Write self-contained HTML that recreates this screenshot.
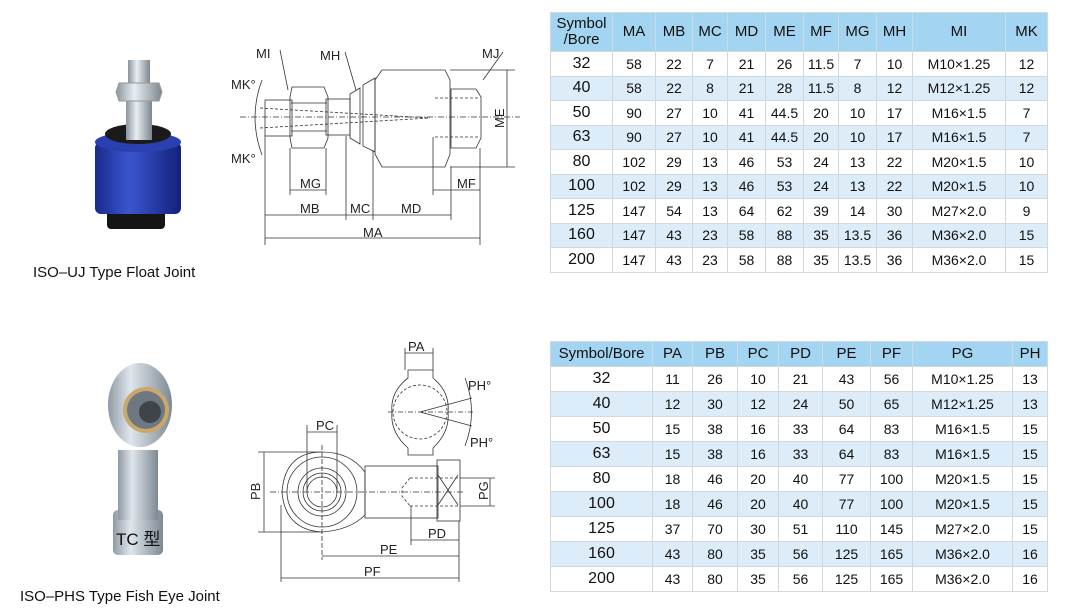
<!DOCTYPE html>
<html><head><meta charset="utf-8"><style>
body{margin:0;width:1066px;height:612px;background:#fff;position:relative;overflow:hidden;font-family:"Liberation Sans","Noto Sans CJK SC",sans-serif;color:#222}
table{position:absolute;border-collapse:collapse;table-layout:fixed;font-family:"Liberation Sans",sans-serif}
td{border:1px solid #cfd8de;text-align:center;padding:0;font-size:14px;color:#111}
tr.h td{background:#a3d4f1;font-size:15px;line-height:16px}
tr.a td{background:#dcedf9}
td.f{font-size:16px}
.lbl{position:absolute;font-size:15px;color:#111;white-space:nowrap}
svg text{font-family:"Liberation Sans",sans-serif;font-size:13px;fill:#222}
</style></head><body>

<svg style="position:absolute;left:0;top:0" width="240" height="300">
  <defs>
    <linearGradient id="bl" x1="0" x2="1"><stop offset="0" stop-color="#1b2a8a"/><stop offset=".4" stop-color="#3a56d0"/><stop offset="1" stop-color="#14207a"/></linearGradient>
    <linearGradient id="st" x1="0" x2="1"><stop offset="0" stop-color="#8a949c"/><stop offset=".4" stop-color="#e8eef2"/><stop offset="1" stop-color="#7c868e"/></linearGradient>
  </defs>
  <rect x="107" y="205" width="58" height="24" rx="4" fill="#151515"/>
  <rect x="95" y="142" width="86" height="72" rx="6" fill="url(#bl)"/>
  <ellipse cx="138" cy="142" rx="43" ry="10" fill="#2b40b0"/>
  <ellipse cx="138" cy="134" rx="33" ry="10" fill="#1a1a1a"/>
  <rect x="126" y="100" width="26" height="40" fill="url(#st)"/>
  <rect x="128" y="60" width="22" height="24" fill="url(#st)"/>
  <path d="M119 83 L159 83 L162 92 L159 101 L119 101 L116 92Z" fill="url(#st)" stroke="#999"/>
</svg>
<div class="lbl" style="left:33px;top:264px">ISO–UJ Type Float Joint</div>

<svg style="position:absolute;left:0;top:350px" width="240" height="230">
  <defs><linearGradient id="sv" x1="0" x2="1"><stop offset="0" stop-color="#8e9aa4"/><stop offset=".35" stop-color="#dfe6ec"/><stop offset="1" stop-color="#7d8993"/></linearGradient></defs>
  <rect x="113" y="160" width="50" height="45" rx="5" fill="url(#sv)"/>
  <rect x="118" y="100" width="40" height="70" fill="url(#sv)"/>
  <ellipse cx="140" cy="55" rx="32" ry="42" fill="url(#sv)"/>
  <circle cx="146" cy="60" r="23" fill="#c9a86a"/>
  <circle cx="146" cy="60" r="19" fill="#6f7880"/>
  <circle cx="150" cy="62" r="11" fill="#3d444a"/>
</svg>
<div class="lbl" style="left:116px;top:525px;font-size:17px">TC 型</div>
<div class="lbl" style="left:20px;top:588px">ISO–PHS Type Fish Eye Joint</div>

<svg style="position:absolute;left:220px;top:30px" width="320" height="220" fill="none" stroke="#333" stroke-width="0.8">
  <line x1="20" y1="87" x2="300" y2="87" stroke-dasharray="6 2 1 2"/>
  <rect x="45" y="70" width="27" height="36"/>
  <path d="M72 57 L104 57 L108 67 L108 108 L104 118 L72 118 L70 108 L70 67Z"/>
  <line x1="71" y1="73" x2="107" y2="73"/><line x1="71" y1="101" x2="107" y2="101"/>
  <rect x="106" y="69" width="24" height="36"/>
  <path d="M130 64 L140 58 L140 114 L130 108Z"/>
  <path d="M143 55 L155 48 L155 122 L143 116Z"/>
  <path d="M162 40 L225 40 L230 50 L230 124 L225 137 L162 137 L155 124 L155 50Z"/>
  <path d="M231 59 L256 59 L261 67 L261 108 L256 118 L231 118Z"/>
  <line x1="215" y1="68" x2="260" y2="68" stroke-dasharray="3 2"/><line x1="215" y1="107" x2="260" y2="107" stroke-dasharray="3 2"/>
  <line x1="40" y1="78" x2="210" y2="88" stroke-dasharray="3 2"/><line x1="40" y1="98" x2="210" y2="88" stroke-dasharray="3 2"/>
  <path d="M42 50 Q28 87 42 125"/>
  <line x1="230" y1="40" x2="295" y2="40"/><line x1="230" y1="137" x2="295" y2="137"/>
  <line x1="287" y1="40" x2="287" y2="137"/>
  <line x1="70" y1="118" x2="70" y2="165"/><line x1="106" y1="118" x2="106" y2="165"/>
  <line x1="70" y1="160" x2="106" y2="160"/>
  <line x1="45" y1="106" x2="45" y2="215"/><line x1="126" y1="106" x2="126" y2="190"/><line x1="153" y1="120" x2="153" y2="190"/><line x1="231" y1="137" x2="231" y2="190"/><line x1="260" y1="118" x2="260" y2="215"/>
  <line x1="213" y1="107" x2="213" y2="165"/>
  <line x1="213" y1="160" x2="260" y2="160"/>
  <line x1="45" y1="185" x2="231" y2="185"/>
  <line x1="45" y1="208" x2="260" y2="208"/>
  <line x1="60" y1="20" x2="68" y2="60"/><line x1="125" y1="22" x2="136" y2="60"/><line x1="283" y1="22" x2="263" y2="50"/>
  <g stroke="none" fill="#222">
    <text x="36" y="28">MI</text><text x="100" y="30">MH</text><text x="262" y="28">MJ</text>
    <text x="11" y="59">MK°</text><text x="11" y="133">MK°</text>
    <text x="80" y="158">MG</text><text x="237" y="158">MF</text>
    <text x="80" y="183">MB</text><text x="130" y="183">MC</text><text x="181" y="183">MD</text>
    <text x="143" y="207">MA</text>
    <text x="0" y="0" transform="translate(284 98) rotate(-90)">ME</text>
  </g>
</svg>

<svg style="position:absolute;left:240px;top:330px" width="280" height="260" fill="none" stroke="#333" stroke-width="0.8">
  <path d="M168 40 L193 40 L193 48 Q210 62 208 82 Q210 102 193 118 L193 125 L168 125 L168 118 Q150 102 152 82 Q150 62 168 48Z"/>
  <circle cx="180" cy="82" r="27" stroke-dasharray="3 2"/>
  <line x1="148" y1="82" x2="235" y2="82" stroke-dasharray="5 2 1 2"/>
  <line x1="180" y1="82" x2="232" y2="68"/><line x1="180" y1="82" x2="232" y2="96"/>
  <path d="M225 48 Q238 82 225 116"/>
  <line x1="165" y1="23" x2="193" y2="23"/><line x1="165" y1="18" x2="165" y2="40"/><line x1="193" y1="18" x2="193" y2="40"/>
  <path d="M82 122 Q45 122 42 162 Q45 200 82 202 Q110 200 125 185 L125 142 Q110 122 82 122Z"/>
  <circle cx="82" cy="162" r="35"/>
  <circle cx="82" cy="162" r="24"/><circle cx="82" cy="162" r="19"/><circle cx="82" cy="162" r="15"/>
  <rect x="125" y="136" width="73" height="52"/>
  <rect x="197" y="130" width="23" height="61"/>
  <path d="M198 145 L218 175 M218 145 L198 175"/>
  <path d="M170 148 L218 148 M170 176 L218 176 M170 148 L162 158 L162 166 L170 176" stroke-dasharray="3 2"/>
  <line x1="30" y1="162" x2="225" y2="162" stroke-dasharray="6 2 1 2"/>
  <line x1="82" y1="115" x2="82" y2="230" stroke-dasharray="5 2"/>
  <line x1="67" y1="95" x2="67" y2="162"/><line x1="97" y1="95" x2="97" y2="162"/><line x1="67" y1="102" x2="97" y2="102"/>
  <line x1="18" y1="122" x2="82" y2="122"/><line x1="18" y1="202" x2="82" y2="202"/><line x1="24" y1="122" x2="24" y2="202"/>
  <line x1="220" y1="148" x2="255" y2="148"/><line x1="220" y1="176" x2="255" y2="176"/><line x1="250" y1="148" x2="250" y2="176"/>
  <line x1="171" y1="176" x2="171" y2="215"/><line x1="219" y1="191" x2="219" y2="252"/>
  <line x1="171" y1="210" x2="219" y2="210"/>
  <line x1="82" y1="226" x2="219" y2="226"/>
  <line x1="41" y1="175" x2="41" y2="252"/><line x1="41" y1="248" x2="219" y2="248"/>
  <g stroke="none" fill="#222">
    <text x="168" y="21">PA</text><text x="228" y="60">PH°</text><text x="230" y="117">PH°</text>
    <text x="76" y="100">PC</text><text x="188" y="208">PD</text><text x="140" y="224">PE</text><text x="124" y="246">PF</text>
    <text transform="translate(20 170) rotate(-90)">PB</text>
    <text transform="translate(248 170) rotate(-90)" font-size="12">PG</text>
  </g>
</svg>

<table style="left:550px;top:12px;width:497px">
<colgroup><col style="width:62px"><col style="width:43px"><col style="width:37px"><col style="width:35px"><col style="width:38px"><col style="width:38px"><col style="width:35px"><col style="width:38px"><col style="width:36px"><col style="width:93px"><col style="width:42px"></colgroup>
<tr class="h" style="height:39px"><td>Symbol<br>/Bore</td><td>MA</td><td>MB</td><td>MC</td><td>MD</td><td>ME</td><td>MF</td><td>MG</td><td>MH</td><td>MI</td><td>MK</td></tr>
<tr style="height:24.5px"><td class="f">32</td><td>58</td><td>22</td><td>7</td><td>21</td><td>26</td><td>11.5</td><td>7</td><td>10</td><td>M10×1.25</td><td>12</td></tr>
<tr class="a" style="height:24.5px"><td class="f">40</td><td>58</td><td>22</td><td>8</td><td>21</td><td>28</td><td>11.5</td><td>8</td><td>12</td><td>M12×1.25</td><td>12</td></tr>
<tr style="height:24.5px"><td class="f">50</td><td>90</td><td>27</td><td>10</td><td>41</td><td>44.5</td><td>20</td><td>10</td><td>17</td><td>M16×1.5</td><td>7</td></tr>
<tr class="a" style="height:24.5px"><td class="f">63</td><td>90</td><td>27</td><td>10</td><td>41</td><td>44.5</td><td>20</td><td>10</td><td>17</td><td>M16×1.5</td><td>7</td></tr>
<tr style="height:24.5px"><td class="f">80</td><td>102</td><td>29</td><td>13</td><td>46</td><td>53</td><td>24</td><td>13</td><td>22</td><td>M20×1.5</td><td>10</td></tr>
<tr class="a" style="height:24.5px"><td class="f">100</td><td>102</td><td>29</td><td>13</td><td>46</td><td>53</td><td>24</td><td>13</td><td>22</td><td>M20×1.5</td><td>10</td></tr>
<tr style="height:24.5px"><td class="f">125</td><td>147</td><td>54</td><td>13</td><td>64</td><td>62</td><td>39</td><td>14</td><td>30</td><td>M27×2.0</td><td>9</td></tr>
<tr class="a" style="height:24.5px"><td class="f">160</td><td>147</td><td>43</td><td>23</td><td>58</td><td>88</td><td>35</td><td>13.5</td><td>36</td><td>M36×2.0</td><td>15</td></tr>
<tr style="height:24.5px"><td class="f">200</td><td>147</td><td>43</td><td>23</td><td>58</td><td>88</td><td>35</td><td>13.5</td><td>36</td><td>M36×2.0</td><td>15</td></tr>
</table>

<table style="left:550px;top:341px;width:497px">
<colgroup><col style="width:102px"><col style="width:40px"><col style="width:45px"><col style="width:41px"><col style="width:44px"><col style="width:48px"><col style="width:42px"><col style="width:100px"><col style="width:35px"></colgroup>
<tr class="h" style="height:25px"><td>Symbol/Bore</td><td>PA</td><td>PB</td><td>PC</td><td>PD</td><td>PE</td><td>PF</td><td>PG</td><td>PH</td></tr>
<tr style="height:25px"><td class="f">32</td><td>11</td><td>26</td><td>10</td><td>21</td><td>43</td><td>56</td><td>M10×1.25</td><td>13</td></tr>
<tr class="a" style="height:25px"><td class="f">40</td><td>12</td><td>30</td><td>12</td><td>24</td><td>50</td><td>65</td><td>M12×1.25</td><td>13</td></tr>
<tr style="height:25px"><td class="f">50</td><td>15</td><td>38</td><td>16</td><td>33</td><td>64</td><td>83</td><td>M16×1.5</td><td>15</td></tr>
<tr class="a" style="height:25px"><td class="f">63</td><td>15</td><td>38</td><td>16</td><td>33</td><td>64</td><td>83</td><td>M16×1.5</td><td>15</td></tr>
<tr style="height:25px"><td class="f">80</td><td>18</td><td>46</td><td>20</td><td>40</td><td>77</td><td>100</td><td>M20×1.5</td><td>15</td></tr>
<tr class="a" style="height:25px"><td class="f">100</td><td>18</td><td>46</td><td>20</td><td>40</td><td>77</td><td>100</td><td>M20×1.5</td><td>15</td></tr>
<tr style="height:25px"><td class="f">125</td><td>37</td><td>70</td><td>30</td><td>51</td><td>110</td><td>145</td><td>M27×2.0</td><td>15</td></tr>
<tr class="a" style="height:25px"><td class="f">160</td><td>43</td><td>80</td><td>35</td><td>56</td><td>125</td><td>165</td><td>M36×2.0</td><td>16</td></tr>
<tr style="height:25px"><td class="f">200</td><td>43</td><td>80</td><td>35</td><td>56</td><td>125</td><td>165</td><td>M36×2.0</td><td>16</td></tr>
</table>
</body></html>
